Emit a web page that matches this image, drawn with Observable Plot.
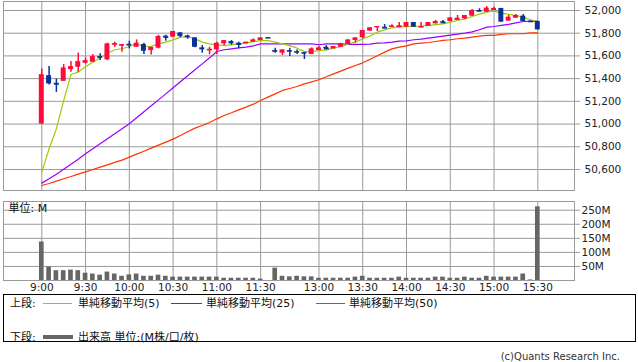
<!DOCTYPE html>
<html><head><meta charset="utf-8">
<script src="https://cdn.jsdelivr.net/npm/d3@7"></script>
<script src="https://cdn.jsdelivr.net/npm/@observablehq/plot@0.6"></script>
<style>
body{margin:0;background:#fff;font-family:"DejaVu Sans","Noto Sans CJK JP",sans-serif;}
#wrap{position:relative;width:638px;height:362px;overflow:hidden;background:#fff;}
#main{position:absolute;left:0;top:0;}
#vol{position:absolute;left:0;top:196px;}
#legendBox{position:absolute;left:3px;top:294px;width:633px;height:48px;border:1px solid #000;box-sizing:border-box;}
.lt{position:absolute;font-size:11px;line-height:13px;color:#111;white-space:nowrap;}
.ll{position:absolute;height:1px;}
#copy{position:absolute;right:18px;top:350px;font-size:10px;line-height:13px;color:#333;white-space:nowrap;}
</style>
</head><body>
<div id="wrap">
  <div id="main"></div>
  <div id="vol"></div>
  <div id="legendBox"></div>
  <div id="legend"></div>
  <div id="copy"></div>
</div>
<script>
// ---- data (5-minute slots; slot 0 = 9:00, slot 68 = 15:30) ----
const open  = [51000,51426,51359,51376,51479,51500,51535,51544,51594,51565,51697,51685,51703,51676,51700,51647,51668,51774,51765,51803,51776,51759,51671,51647,51653,51706,51726,51712,51706,51721,51735,51759,51647,51624,51647,51638,51629,51612,51647,51676,51662,51676,51700,51735,51759,51818,51847,51853,51850,51853,51853,51894,51853,51859,51882,51900,51903,51912,51926,51950,52000,51985,52000,52018,51906,51932,51950,51903,51903];
const high  = [51485,51506,51397,51524,51550,51624,51582,51612,51618,51712,51721,51700,51729,51741,51712,51676,51782,51782,51815,51803,51782,51759,51691,51676,51721,51735,51735,51721,51721,51750,51759,51759,51668,51653,51668,51653,51629,51671,51682,51691,51682,51712,51741,51759,51824,51847,51859,51876,51874,51894,51894,51894,51894,51894,51912,51912,51935,51956,51956,52009,52015,52035,52029,52018,51956,51965,51965,51906,51903];
const low   = [50995,51344,51279,51376,51456,51456,51529,51544,51559,51559,51676,51632,51662,51676,51612,51609,51662,51729,51765,51759,51747,51671,51624,51609,51612,51691,51694,51662,51706,51721,51735,51759,51624,51603,51594,51612,51568,51612,51647,51653,51662,51676,51700,51715,51750,51818,51815,51847,51850,51847,51853,51853,51853,51859,51882,51888,51903,51912,51921,51950,51985,51985,52000,51897,51906,51932,51903,51903,51829];
const close = [51435,51353,51353,51494,51506,51550,51559,51594,51579,51706,51706,51700,51688,51712,51641,51676,51771,51765,51815,51771,51759,51676,51653,51656,51712,51735,51706,51703,51721,51741,51759,51759,51632,51653,51632,51624,51615,51662,51671,51665,51682,51706,51741,51759,51824,51847,51859,51847,51865,51862,51894,51853,51856,51894,51903,51894,51935,51932,51956,52000,51985,52021,52018,51897,51941,51956,51903,51903,51829];
const volume = [137,48,35,35,37,35,26,23,19,30,23,15,20,23,15,15,19,15,12,12,12,12,12,12,12,8,8,8,8,8,5,0,44,15,13,15,13,13,8,8,8,8,8,12,15,8,8,8,8,12,8,8,8,8,12,12,8,8,12,8,8,15,12,12,12,12,23,2,262];
const ma5  = [50577,50782,50958,51207,51436,51457,51507,51545,51583,51624,51654,51663,51683,51707,51682,51685,51706,51721,51741,51765,51771,51750,51721,51706,51697,51691,51697,51706,51712,51725,51735,51735,51721,51706,51691,51668,51638,51638,51647,51653,51668,51682,51706,51721,51750,51775,51809,51829,51847,51853,51859,51859,51862,51868,51876,51882,51897,51912,51926,51947,51968,51985,51994,51976,51965,51956,51941,51918,51903];
const ma25 = [50480,50518,50559,50603,50647,50691,50738,50782,50826,50870,50914,50958,51002,51055,51108,51161,51213,51266,51319,51372,51425,51478,51530,51583,51639,51654,51662,51671,51677,51689,51706,51706,51706,51706,51706,51706,51706,51706,51698,51706,51706,51706,51701,51701,51701,51704,51712,51715,51721,51730,51733,51742,51748,51756,51765,51774,51783,51792,51800,51812,51830,51853,51859,51868,51877,51891,51903,51906,51906];
const ma50 = [50459,50477,50497,50518,50538,50559,50579,50600,50621,50641,50662,50682,50709,50735,50761,50788,50814,50841,50867,50899,50932,50964,50987,51014,51046,51075,51099,51125,51149,51175,51208,51237,51266,51296,51313,51331,51354,51372,51390,51416,51442,51466,51492,51516,51539,51571,51601,51633,51662,51677,51689,51706,51712,51718,51727,51736,51742,51751,51756,51765,51774,51780,51780,51789,51795,51795,51795,51803,51803];
const tickSlots  = [0,6,12,18,24,30,38,44,50,56,62,68];
const tickLabels = ["9:00","9:30","10:00","10:30","11:00","11:30","13:00","13:30","14:00","14:30","15:00","15:30"];
const priceTicks = [50600,50800,51000,51200,51400,51600,51800,52000];
const volTicks   = [50,100,150,200,250];
const legendTop  = ["上段:","単純移動平均(5)","単純移動平均(25)","単純移動平均(50)"];
const legendBottom = ["下段:","出来高 単位:(M株/口/枚)"];
const volUnit = "単位: M";
const copyright = "(c)Quants Research Inc.";

const UP = "#ff0a3c", DOWN = "#0a3296";
const GRID = "#9a9a9a";
const C5 = "#99cc00", C25 = "#9900ff", C50 = "#ff3300";

const candles = open.map((o, i) => ({
  i, o, h: high[i], l: low[i], c: close[i], v: volume[i],
  m5: ma5[i], m25: ma25[i], m50: ma50[i],
  col: close[i] > o ? UP : DOWN
}));

const xDomain = [-5.25, 73.03];
const font = {fontFamily: '"DejaVu Sans","Noto Sans CJK JP",sans-serif', fontSize: "10.5px", color: "#222", background: "transparent", overflow: "visible"};

const main = Plot.plot({
  width: 638, height: 192,
  marginLeft: 3, marginRight: 64, marginTop: 1, marginBottom: 2,
  style: font,
  x: {domain: xDomain, axis: null, label: null},
  y: {domain: [50415, 52079], axis: null, label: null},
  color: {type: "identity"},
  marks: [
    Plot.ruleY(priceTicks, {stroke: GRID, strokeWidth: 1}),
    Plot.ruleX(tickSlots, {stroke: GRID, strokeWidth: 1}),
    Plot.frame({stroke: GRID}),
    Plot.line(candles, {x: "i", y: "m50", stroke: C50, strokeWidth: 1.2}),
    Plot.line(candles, {x: "i", y: "m25", stroke: C25, strokeWidth: 1.2}),
    Plot.line(candles, {x: "i", y: "m5", stroke: C5, strokeWidth: 1.2}),
    Plot.ruleX(candles, {x: "i", y1: "l", y2: "h", stroke: "col", strokeWidth: 1.5}),
    Plot.rect(candles, {x1: d => d.i - 0.34, x2: d => d.i + 0.34, y1: d => Math.min(d.o, d.c), y2: d => Math.max(d.o, d.c), fill: "col"}),
    Plot.link(candles.filter(d => Math.abs(d.o - d.c) < 12), {x1: d => d.i - 0.34, x2: d => d.i + 0.34, y1: "c", y2: "c", stroke: "col", strokeWidth: 1.6}),
    Plot.axisY(priceTicks, {anchor: "right", label: null, tickFormat: d3.format(","), tickSize: 5, tickPadding: 5, stroke: GRID, fill: "#222", fontSize: 10.5})
  ]
});
document.getElementById("main").append(main);

const vol = Plot.plot({
  width: 638, height: 100,
  marginLeft: 3, marginRight: 64, marginTop: 5, marginBottom: 16,
  style: font,
  x: {domain: xDomain, label: null},
  y: {domain: [0, 281], axis: null, label: null},
  marks: [
    Plot.ruleY(volTicks, {stroke: GRID, strokeWidth: 1}),
    Plot.ruleX(tickSlots, {stroke: GRID, strokeWidth: 1}),
    Plot.frame({stroke: GRID}),
    Plot.rect(candles.filter(d => d.v > 0), {x1: d => d.i - 0.32, x2: d => d.i + 0.32, y1: 0, y2: "v", fill: "#666666"}),
    Plot.axisY(volTicks, {anchor: "right", label: null, tickFormat: d => d + "M", tickSize: 5, tickPadding: 2, stroke: GRID, fill: "#222", fontSize: 10.5}),
    Plot.axisX(tickSlots, {label: null, tickFormat: d => tickLabels[tickSlots.indexOf(d)], tickSize: 0, tickPadding: 3, fill: "#222", fontSize: 10.5}),
    Plot.text([volUnit], {frameAnchor: "top-left", dx: 5, dy: 3, lineAnchor: "top", textAnchor: "start", fontSize: 11, fill: "#111"})
  ]
});
document.getElementById("vol").append(vol);

// ---- legend ----
const lg = document.getElementById("legend");
function txt(s, left, cy) {
  const d = document.createElement("div");
  d.className = "lt"; d.textContent = s;
  d.style.left = left + "px"; d.style.top = (cy - 6.5) + "px";
  lg.append(d);
}
function ln(left, w, cy, color, h) {
  const d = document.createElement("div");
  d.className = "ll";
  d.style.left = left + "px"; d.style.width = w + "px";
  d.style.top = (cy - h / 2) + "px"; d.style.height = h + "px";
  d.style.background = color;
  lg.append(d);
}
txt(legendTop[0], 10, 303);
ln(43, 29, 303, C5, 1); txt(legendTop[1], 78, 303);
ln(171, 31, 303, C25, 1); txt(legendTop[2], 206, 303);
ln(316, 29, 303, C50, 1); txt(legendTop[3], 349, 303);
txt(legendBottom[0], 10, 337);
ln(43, 30, 337, "#666666", 4); txt(legendBottom[1], 78, 337);
document.getElementById("copy").textContent = copyright;
</script>
</body></html>
